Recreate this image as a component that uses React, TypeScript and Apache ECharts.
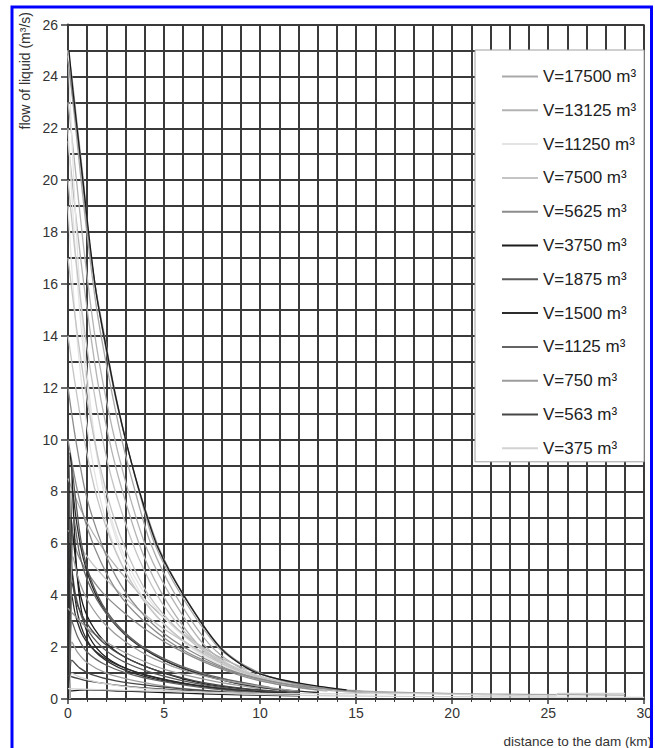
import React, { useEffect, useRef } from "react";
import * as echarts from "echarts";

// Legend entries (volumes) and their grey levels
const volumeNames = [
  "V=17500 m³", "V=13125 m³", "V=11250 m³", "V=7500 m³", "V=5625 m³", "V=3750 m³",
  "V=1875 m³", "V=1500 m³", "V=1125 m³", "V=750 m³", "V=563 m³", "V=375 m³",
];
const volumeColors = [
  "#a9a9a9", "#b3b3b3", "#e4e4e4", "#c4c4c4", "#8c8c8c", "#1c1c1c",
  "#595959", "#2c2c2c", "#646464", "#9c9c9c", "#474747", "#d2d2d2",
];

// Flow profiles (distance km, flow m³/s), per volume
const V17500 = [
  [[0, 25], [0.2, 24], [0.5, 22], [0.8, 20], [1.05, 18], [1.4, 16], [1.9, 14], [2.4, 12], [3, 10], [3.7, 8], [4.5, 6], [5.9, 4], [7.8, 2], [9, 1.35], [10.1, 0.95], [12, 0.6], [14.3, 0.36], [17, 0.26], [22, 0.19], [26, 0.17], [29, 0.15]],
  [[0, 24.8], [0.4, 22], [0.9, 18.5], [1.5, 15], [2.1, 12.5], [2.8, 10], [3.5, 8], [4.3, 6], [5.6, 4], [7.5, 2], [9.5, 1], [12, 0.55], [15, 0.3], [20, 0.2]],
];
const V13125 = [
  [[0, 23], [0.3, 21], [0.8, 17.5], [1.4, 14], [2, 11.5], [2.6, 9.5], [3.3, 7.6], [4.1, 5.8], [5.4, 3.9], [7.2, 2], [9.2, 1], [11.5, 0.55], [14, 0.3], [17, 0.2]],
  [[0, 21.5], [0.5, 18], [1, 15], [1.6, 12], [2.3, 9.5], [3, 7.6], [3.9, 5.6], [5.1, 3.8], [6.9, 2], [8.8, 1.05], [11, 0.55], [13.5, 0.3]],
  [[0, 8.5], [0.6, 7.4], [1.3, 6.4], [2.2, 5.4], [3.3, 4.4], [4.6, 3.4], [6.2, 2.4], [8.2, 1.5], [10.5, 0.85], [13, 0.45]],
];
const V11250 = [
  [[0, 25], [0.3, 20], [0.6, 16], [1, 12.5], [1.5, 9.5], [2.1, 7.2], [3, 5.2], [4.2, 3.6], [6, 2.2], [8, 1.3], [10.5, 0.7], [13, 0.4]],
  [[0, 22], [0.5, 16], [1, 12], [1.6, 9], [2.4, 6.6], [3.4, 4.8], [4.8, 3.3], [6.6, 2.1], [8.8, 1.2], [11, 0.7], [14, 0.35]],
  [[0, 19], [0.4, 14.5], [0.9, 11], [1.5, 8.3], [2.3, 6.1], [3.3, 4.5], [4.6, 3.2], [6.4, 2], [8.5, 1.2], [11, 0.6]],
];
const V7500 = [
  [[0, 20], [0.4, 17], [0.9, 14], [1.5, 11.2], [2.1, 9], [2.8, 7.2], [3.7, 5.4], [4.9, 3.7], [6.6, 2.2], [8.6, 1.25], [11, 0.65], [14, 0.35]],
  [[0, 17], [0.5, 14], [1, 11.5], [1.6, 9.2], [2.3, 7.2], [3.1, 5.6], [4.2, 4], [5.7, 2.7], [7.6, 1.6], [10, 0.85], [13, 0.45]],
  [[0, 14], [0.4, 12], [0.9, 9.8], [1.5, 7.8], [2.3, 6], [3.3, 4.5], [4.6, 3.2], [6.3, 2.1], [8.5, 1.2], [11, 0.6]],
  [[0, 6.5], [0.6, 5.9], [1.4, 5.1], [2.4, 4.3], [3.6, 3.5], [5, 2.7], [6.8, 1.9], [9, 1.1], [11.5, 0.6]],
];
const V5625 = [
  [[0, 12], [0.4, 10], [0.9, 8], [1.5, 6.5], [2.3, 5], [3.3, 3.8], [4.7, 2.7], [6.5, 1.8], [8.7, 1.05], [11.5, 0.55], [15, 0.3]],
  [[0, 10], [0.5, 8], [1, 6.6], [1.7, 5.3], [2.6, 4.1], [3.8, 3.1], [5.3, 2.2], [7.2, 1.45], [9.5, 0.85], [12.5, 0.45]],
  [[0, 24.6], [0.45, 22], [0.75, 20], [1.1, 17.6], [1.55, 15.3], [2.05, 13.2], [2.6, 11.2], [3.2, 9.4], [3.9, 7.6], [4.8, 5.7], [6.2, 3.8], [8, 1.95], [10, 1], [12.5, 0.5], [15, 0.3]],
  [[0.1, 0], [0.2, 6.5], [0.5, 5.6], [1, 4.9], [1.8, 4.1], [2.8, 3.4], [4, 2.7], [5.5, 2], [7.5, 1.3], [10, 0.7], [13, 0.35]],
];
const V3750 = [
  [[0.05, 25], [0.25, 23.5], [0.55, 21.5], [0.85, 19.5], [1.15, 17.5], [1.5, 15.5], [2, 13.5], [2.5, 11.6], [3.1, 9.7], [3.8, 7.8], [4.7, 5.8], [6.1, 3.9], [7.9, 2], [9.3, 1.2], [10.5, 0.85], [12.5, 0.55], [14.5, 0.35]],
  [[0.1, 0], [0.15, 7], [0.3, 6], [0.6, 4.2], [1, 3.2], [1.8, 2.3], [3, 1.6], [5, 1], [7, 0.6], [9, 0.4], [12, 0.2]],
  [[0.05, 0.3], [1, 0.35], [3, 0.3], [5, 0.25], [7, 0.2], [9, 0.16], [12, 0.12]],
  [[0.05, 0], [0.1, 9.5], [0.2, 8.8], [0.3, 7], [0.45, 5], [0.7, 3.4], [1.1, 2.4], [2, 1.6], [3.5, 1.05], [6, 0.6], [9, 0.3], [12, 0.15]],
];
const V1875 = [
  [[0.1, 0], [0.2, 9], [0.35, 8], [0.7, 6], [1.2, 4.6], [2, 3.4], [3.2, 2.4], [5, 1.5], [7, 0.95], [9.5, 0.5], [12, 0.3]],
  [[0.1, 0], [0.2, 5], [0.4, 4], [0.8, 3], [1.5, 2.2], [2.5, 1.6], [4, 1.1], [6, 0.7], [8.5, 0.4], [11, 0.25]],
];
const V1500 = [
  [[0.1, 0], [0.25, 8], [0.45, 6.8], [0.8, 5.4], [1.4, 4.1], [2.3, 3], [3.6, 2.1], [5.4, 1.35], [7.6, 0.8], [10, 0.45], [13, 0.25]],
  [[0.1, 0], [0.2, 4], [0.4, 3.2], [0.8, 2.4], [1.5, 1.8], [2.6, 1.3], [4.2, 0.9], [6.5, 0.55], [9, 0.32], [12, 0.2]],
  [[0.05, 0], [0.1, 6], [0.25, 4.6], [0.5, 3.3], [0.9, 2.4], [1.6, 1.7], [3, 1.1], [5, 0.7], [8, 0.4], [11, 0.22]],
];
const V1125 = [
  [[0.1, 0], [0.3, 7], [0.6, 5.6], [1, 4.6], [1.7, 3.6], [2.7, 2.7], [4, 1.95], [5.8, 1.3], [8, 0.8], [10.5, 0.45]],
  [[0.1, 0], [0.2, 3], [0.5, 2.4], [1, 1.8], [2, 1.3], [3.5, 0.9], [5.5, 0.6], [8, 0.35], [11, 0.2]],
];
const V750 = [
  [[0.1, 0], [0.25, 5.5], [0.6, 4.5], [1.1, 3.7], [1.9, 2.9], [3, 2.2], [4.5, 1.55], [6.5, 1], [9, 0.6], [12, 0.3]],
  [[0.1, 0], [0.2, 2.2], [0.5, 1.8], [1, 1.4], [2, 1], [3.5, 0.7], [5.5, 0.45], [8, 0.28]],
  [[0, 3.5], [0.5, 3.1], [1.2, 2.6], [2.2, 2.1], [3.5, 1.6], [5.2, 1.1], [7.5, 0.7], [10, 0.4]],
];
const V563 = [
  [[0.1, 0], [0.2, 4.5], [0.5, 3.6], [1, 2.9], [1.8, 2.2], [3, 1.6], [4.6, 1.1], [6.6, 0.7], [9, 0.42], [12, 0.25]],
  [[0.1, 0], [0.2, 1.5], [0.6, 1.2], [1.2, 0.95], [2.5, 0.7], [4.5, 0.5], [7, 0.33], [10, 0.2]],
  [[0, 0.9], [1, 0.7], [3, 0.5], [5, 0.38], [7, 0.3], [9, 0.22], [12, 0.15]],
];
const V375 = [
  [[0.1, 0], [0.2, 1], [0.6, 0.85], [1.5, 0.65], [3, 0.48], [5, 0.35], [8, 0.22], [12, 0.14], [17, 0.1], [22, 0.08], [30, 0.06]],
  [[0, 0.4], [2, 0.35], [6, 0.28], [10, 0.22], [14, 0.2], [17, 0.22], [22, 0.15], [25.4, 0.12], [25.5, 0.22], [29, 0.22]],
];

const profilesByVolume = [V17500, V13125, V11250, V7500, V5625, V3750, V1875, V1500, V1125, V750, V563, V375];

const xTicks = { min: 0, max: 30, interval: 5 };
const yTicks = { min: 0, max: 26, interval: 2 };

export default function App() {
  const ref = useRef<HTMLDivElement>(null);
  useEffect(() => {
    if (!ref.current) return;
    const chart = echarts.init(ref.current, undefined, { renderer: "svg" });
    const gridColor = "#3a3a3a";
    const font = "Liberation Sans, Arial, sans-serif";
    const series: any[] = [];
    profilesByVolume.forEach((curves, i) => {
      curves.forEach((c) => {
        series.push({
          type: "line",
          name: volumeNames[i],
          data: c,
          symbol: "none",
          smooth: 0.3,
          lineStyle: { color: volumeColors[i], width: 1.3 },
          itemStyle: { color: volumeColors[i] },
          z: 3,
        });
      });
    });
    chart.setOption({
      animation: false,
      backgroundColor: "#ffffff",
      textStyle: { fontFamily: font },
      grid: { left: 68, right: 10, top: 24.5, bottom: 49, containLabel: false },
      xAxis: {
        type: "value",
        min: xTicks.min,
        max: xTicks.max,
        interval: xTicks.interval,
        axisLine: { show: true, lineStyle: { color: gridColor, width: 2 } },
        axisTick: { show: true, length: 5, lineStyle: { color: gridColor, width: 1.5 } },
        minorTick: { show: true, splitNumber: 5, length: 3, lineStyle: { color: gridColor } },
        axisLabel: { color: "#333", fontSize: 14, margin: 7 },
        splitLine: { show: true, lineStyle: { color: gridColor, width: 2 } },
        minorSplitLine: { show: true, lineStyle: { color: gridColor, width: 2 } },
      },
      yAxis: {
        type: "value",
        min: yTicks.min,
        max: yTicks.max,
        interval: yTicks.interval,
        axisLine: { show: true, lineStyle: { color: gridColor, width: 2 } },
        axisTick: { show: true, length: 7, lineStyle: { color: gridColor, width: 1.5 } },
        minorTick: { show: false, splitNumber: 2 },
        axisLabel: { color: "#333", fontSize: 14, margin: 10 },
        splitLine: { show: true, lineStyle: { color: gridColor, width: 2 } },
        minorSplitLine: { show: true, lineStyle: { color: gridColor, width: 2 } },
      },
      legend: {
        data: volumeNames,
        orient: "vertical",
        left: 475,
        top: 50,
        padding: [18, 8, 5, 27],
        icon: "rect",
        itemWidth: 36,
        itemHeight: 2,
        itemGap: 16.8,
        backgroundColor: "#ffffff",
        borderColor: "#a0a0a0",
        borderWidth: 1,
        textStyle: { fontSize: 17, color: "#222", fontFamily: font },
        selectedMode: false,
      },
      graphic: [
        {
          type: "text",
          x: 25,
          y: 12,
          rotation: Math.PI / 2,
          style: {
            text: "flow of liquid (m³/s)",
            fontSize: 14,
            fill: "#333",
            fontFamily: font,
            textAlign: "right",
            textVerticalAlign: "middle",
          },
        },
        {
          type: "text",
          x: 652,
          y: 741,
          style: {
            text: "distance to the dam (km)",
            fontSize: 13.5,
            fill: "#333",
            fontFamily: font,
            textAlign: "right",
            textVerticalAlign: "middle",
          },
        },
        {
          type: "rect",
          shape: { x: 12, y: 7, width: 639.5, height: 800 },
          style: { fill: "none", stroke: "#0000ff", lineWidth: 3 },
          z: 100,
        },
      ],
      series,
    });
    return () => chart.dispose();
  }, []);
  return (
    <div
      ref={ref}
      style={{ position: "absolute", left: 0, top: 0, width: 655, height: 748 }}
    />
  );
}
